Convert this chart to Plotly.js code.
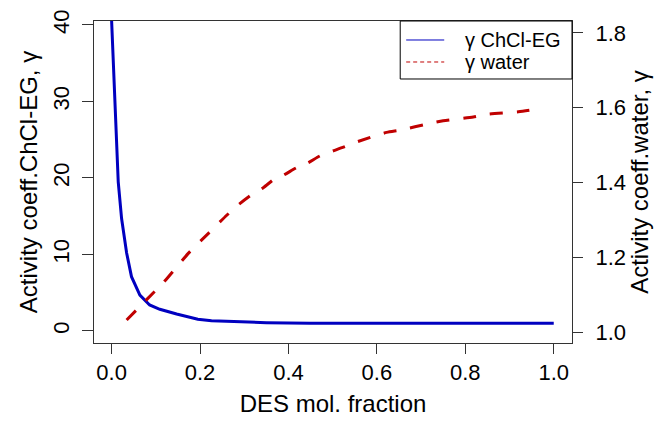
<!DOCTYPE html>
<html>
<head>
<meta charset="utf-8">
<script src="https://cdn.plot.ly/plotly-3.0.1.min.js"></script>
<style>html,body{margin:0;padding:0;background:#fff;}#chart{width:654px;height:422px;}</style>
</head>
<body>
<div id="chart"></div>
<script>
// DES mol. fraction vs activity coefficient of ChCl-EG (left axis)
var desFractionChCl = [0.0, 0.004, 0.0097, 0.015, 0.0226, 0.034, 0.045, 0.064, 0.086, 0.109, 0.147, 0.195, 0.226, 0.275, 0.35, 0.449, 0.6, 0.8, 1.0];
var gammaChCl = [40.6, 34.5, 25.5, 19.5, 14.7, 10.2, 7.1, 4.7, 3.4, 2.84, 2.22, 1.53, 1.35, 1.22, 1.09, 1.0, 1.0, 1.0, 1.0];

// DES mol. fraction vs activity coefficient of water (right axis)
var desFractionWater = [0.034, 0.082, 0.117, 0.174, 0.219, 0.261, 0.283, 0.321, 0.343, 0.370, 0.385, 0.419, 0.445, 0.471, 0.521, 0.551, 0.622, 0.652, 0.720, 0.750, 0.818, 0.852, 0.920, 0.950];
var gammaWater = [1.032, 1.090, 1.132, 1.211, 1.264, 1.313, 1.337, 1.371, 1.386, 1.411, 1.417, 1.440, 1.453, 1.471, 1.493, 1.507, 1.534, 1.540, 1.558, 1.565, 1.575, 1.583, 1.589, 1.594];

var xTicks = [0.0, 0.2, 0.4, 0.6, 0.8, 1.0];
var xTickLabels = ["0.0", "0.2", "0.4", "0.6", "0.8", "1.0"];
var yTicks = [0, 10, 20, 30, 40];
var y2Ticks = [1.0, 1.2, 1.4, 1.6, 1.8];
var y2TickLabels = ["1.0", "1.2", "1.4", "1.6", "1.8"];
var seriesNames = ["\u03b3 ChCl-EG", "\u03b3 water"];

var blue = "#0000C0";
var red = "#C00000";
var font = "Liberation Sans, Arial, sans-serif";

var traces = [
  {x: desFractionChCl, y: gammaChCl, type: "scatter", mode: "lines", yaxis: "y", name: seriesNames[0],
   line: {color: blue, width: 3}, showlegend: false, hoverinfo: "skip"},
  {x: desFractionWater, y: gammaWater, type: "scatter", mode: "lines", yaxis: "y2", name: seriesNames[1],
   line: {color: red, width: 3, dash: "13px,14px", shape: "spline", smoothing: 0.6}, showlegend: false, hoverinfo: "skip"}
];

// R-style legend box (decoration, in paper coordinates)
var legendShapes = [
  {type: "rect", xref: "paper", yref: "paper", x0: 0.6406, x1: 1.0, y0: 0.8199, y1: 1.0,
   line: {color: "#000", width: 1}, fillcolor: "#fff", layer: "above"},
  {type: "line", xref: "paper", yref: "paper", x0: 0.6531, x1: 0.7327, y0: 0.941, y1: 0.941,
   line: {color: blue, width: 1}, layer: "above"},
  {type: "line", xref: "paper", yref: "paper", x0: 0.6531, x1: 0.7327, y0: 0.8727, y1: 0.8727,
   line: {color: red, width: 1, dash: "4px,3px"}, layer: "above"}
];
var legendTexts = [
  {text: seriesNames[0], xref: "paper", yref: "paper", x: 0.7725, y: 0.940, xanchor: "left", yanchor: "middle",
   showarrow: false, font: {family: font, size: 20, color: "#000"}},
  {text: seriesNames[1], xref: "paper", yref: "paper", x: 0.7725, y: 0.873, xanchor: "left", yanchor: "middle",
   showarrow: false, font: {family: font, size: 20, color: "#000"}}
];

var layout = {
  width: 654, height: 422,
  margin: {l: 94, r: 82, t: 21, b: 79},
  paper_bgcolor: "#fff", plot_bgcolor: "#fff",
  font: {family: font, color: "#000", size: 22},
  showlegend: false,
  shapes: legendShapes,
  annotations: legendTexts,
  xaxis: {range: [-0.0398, 1.0413], tickvals: xTicks, ticktext: xTickLabels,
    ticks: "outside", ticklen: 10, tickwidth: 1, tickcolor: "#333",
    showline: true, linecolor: "#333", linewidth: 1, mirror: true,
    showgrid: false, zeroline: false, ticklabelstandoff: 0,
    tickfont: {family: font, size: 22, color: "#000"},
    title: {text: "DES mol. fraction", font: {family: font, size: 24, color: "#000"}, standoff: 10}},
  yaxis: {range: [-1.57, 40.52], tickvals: yTicks, ticks: "outside", ticklen: 11, tickwidth: 1, tickcolor: "#333",
    showline: true, linecolor: "#333", linewidth: 1, mirror: true,
    showgrid: false, zeroline: false, tickangle: -90, ticklabelstandoff: 4,
    tickfont: {family: font, size: 22, color: "#000"},
    title: {text: "Activity coeff.ChCl-EG, \u03b3", font: {family: font, size: 24, color: "#000"}, standoff: 4}},
  yaxis2: {range: [0.9706, 1.832], tickvals: y2Ticks, ticktext: y2TickLabels, overlaying: "y", side: "right",
    ticks: "outside", ticklen: 10, tickwidth: 1, tickcolor: "#333",
    showline: false, showgrid: false, zeroline: false, ticklabelstandoff: 8,
    tickfont: {family: font, size: 22, color: "#000"},
    title: {text: "Activity coeff.water, \u03b3", font: {family: font, size: 24, color: "#000"}, standoff: 4}}
};

Plotly.newPlot("chart", traces, layout, {displayModeBar: false, staticPlot: true});
</script>
</body>
</html>
